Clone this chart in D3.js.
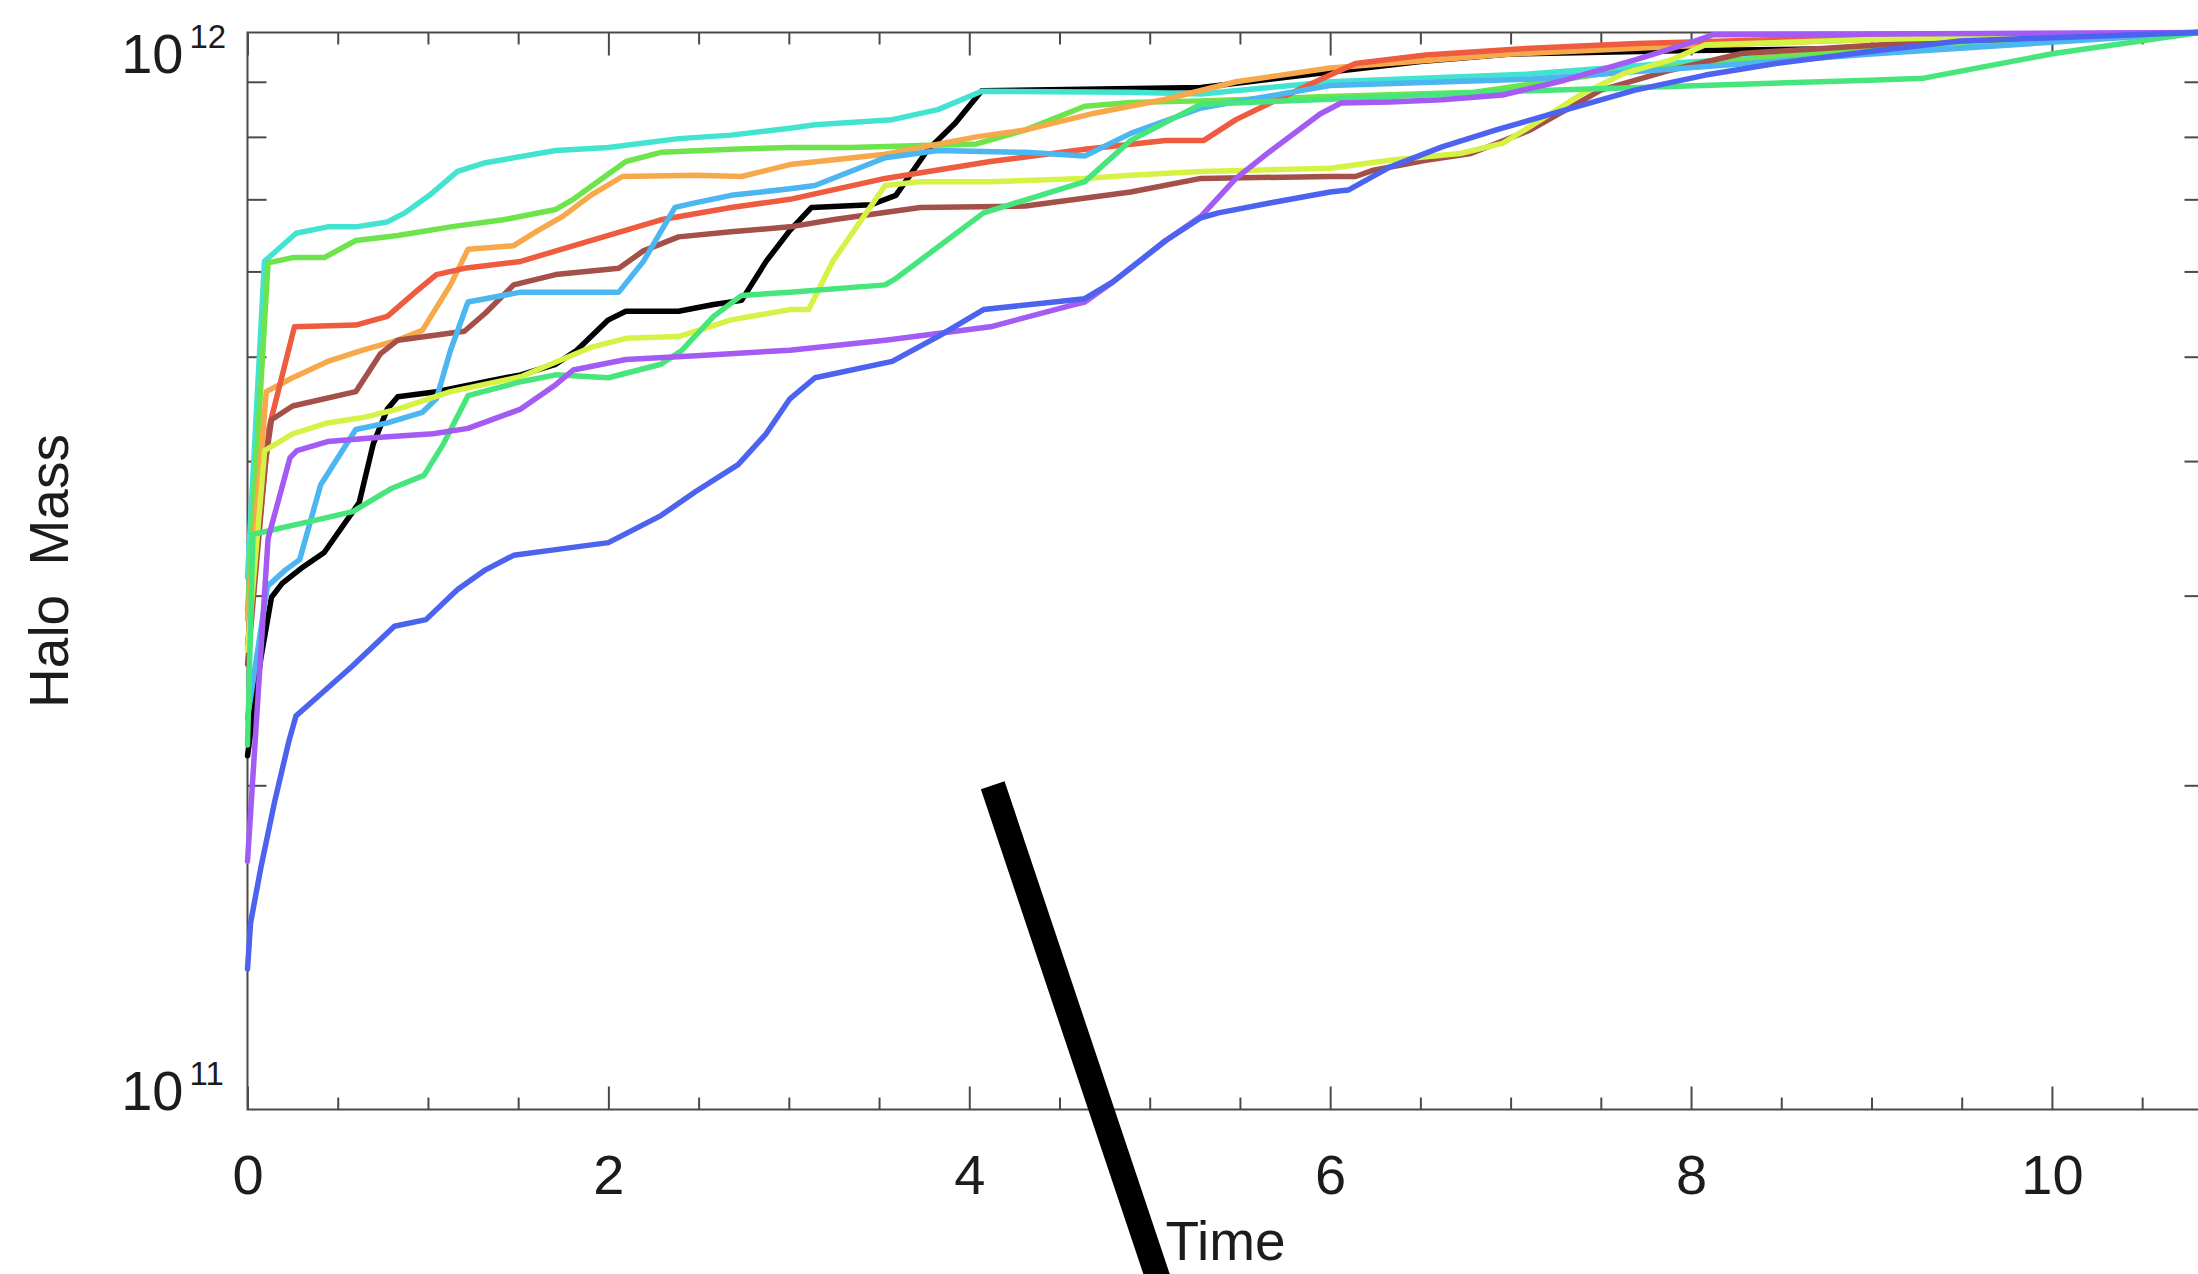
<!DOCTYPE html>
<html>
<head>
<meta charset="utf-8">
<script src="https://cdn.jsdelivr.net/npm/d3@7"></script>
<style>
  html, body { margin: 0; padding: 0; background: #fff; }
  svg { display: block; }
  text { font-family: "Liberation Sans", Arial, sans-serif; fill: #1c1c1c; }
</style>
</head>
<body>
<div id="chart"></div>
<script>
// halo mass tracks: time and mass (mass in units of 1e11)
const blackT = [0, 0.075, 0.133, 0.192, 0.308, 0.425, 0.619, 0.697, 0.775, 0.833, 1.047, 1.319, 1.514, 1.708, 1.825, 2.0, 2.097, 2.389, 2.583, 2.738, 2.874, 3.006, 3.126, 3.456, 3.593, 3.767, 3.923, 4.069, 5.284, 6.0, 6.5, 7.0, 8.0, 9.04, 10.82];
const blackM = [2.13, 2.63, 2.99, 3.08, 3.19, 3.29, 3.66, 4.15, 4.47, 4.59, 4.64, 4.74, 4.81, 4.92, 5.07, 5.41, 5.51, 5.51, 5.59, 5.64, 6.13, 6.55, 6.88, 6.92, 7.06, 7.77, 8.24, 8.83, 8.89, 9.19, 9.4, 9.55, 9.62, 9.67, 10];

const cyanT = [0, 0.094, 0.269, 0.444, 0.6, 0.775, 0.872, 1.008, 1.164, 1.319, 1.708, 2.0, 2.389, 2.68, 3.006, 3.145, 3.573, 3.826, 4.069, 4.895, 5.284, 6.0, 7.1, 7.9, 9.0, 10.82];
const cyanM = [3.12, 6.13, 6.51, 6.60, 6.60, 6.67, 6.80, 7.06, 7.43, 7.57, 7.77, 7.82, 7.97, 8.03, 8.15, 8.21, 8.30, 8.48, 8.82, 8.80, 8.77, 9.0, 9.15, 9.37, 9.6, 10];

const limeT = [0, 0.114, 0.25, 0.425, 0.6, 0.833, 1.125, 1.416, 1.708, 1.805, 2.097, 2.291, 2.68, 3.006, 3.34, 4.04, 4.312, 4.64, 4.895, 5.284, 6.0, 6.8, 7.5, 8.5, 9.5, 10.82];
const limeM = [2.9, 6.11, 6.18, 6.18, 6.41, 6.48, 6.60, 6.70, 6.85, 7.00, 7.59, 7.74, 7.79, 7.82, 7.82, 7.88, 8.12, 8.54, 8.61, 8.64, 8.72, 8.8, 9.15, 9.5, 9.8, 10];

const orangeT = [0, 0.104, 0.25, 0.444, 0.639, 0.833, 0.969, 1.125, 1.222, 1.475, 1.611, 1.747, 1.902, 2.077, 2.486, 2.738, 3.006, 3.534, 4.04, 4.312, 4.70, 5.089, 5.478, 6.0, 7.0, 8.0, 9.0, 10.82];
const orangeM = [2.85, 4.64, 4.78, 4.95, 5.07, 5.18, 5.29, 5.83, 6.29, 6.34, 6.55, 6.75, 7.06, 7.35, 7.37, 7.35, 7.54, 7.71, 8.0, 8.12, 8.42, 8.67, 9.0, 9.27, 9.55, 9.72, 9.85, 10];

const redT = [0, 0.12, 0.26, 0.6, 0.775, 0.93, 1.047, 1.202, 1.514, 1.902, 2.291, 2.68, 3.006, 3.534, 4.117, 4.64, 5.089, 5.30, 5.478, 5.673, 6.0, 6.14, 6.53, 7.11, 7.7, 8.5, 9.5, 10.82];
const redM = [2.7, 4.3, 5.33, 5.35, 5.45, 5.74, 5.96, 6.04, 6.13, 6.41, 6.70, 6.88, 7.00, 7.32, 7.59, 7.79, 7.94, 7.94, 8.30, 8.61, 9.13, 9.36, 9.53, 9.67, 9.77, 9.85, 9.93, 10];

const brownT = [0, 0.1, 0.133, 0.25, 0.6, 0.736, 0.833, 1.202, 1.319, 1.475, 1.708, 2.058, 2.194, 2.389, 2.68, 3.006, 3.243, 3.729, 4.312, 4.895, 5.284, 6.0, 6.14, 6.24, 6.53, 6.78, 7.11, 7.50, 7.89, 8.28, 9.3, 10.82];
const brownM = [2.59, 4.0, 4.37, 4.50, 4.64, 5.03, 5.18, 5.28, 5.49, 5.83, 5.96, 6.04, 6.27, 6.46, 6.53, 6.60, 6.70, 6.88, 6.90, 7.11, 7.32, 7.35, 7.35, 7.45, 7.61, 7.72, 8.12, 8.84, 9.23, 9.56, 9.8, 10];

const skyT = [0, 0.11, 0.211, 0.289, 0.405, 0.6, 0.775, 0.969, 1.047, 1.125, 1.222, 1.514, 2.058, 2.194, 2.369, 2.486, 2.68, 3.006, 3.145, 3.534, 3.826, 4.312, 4.64, 4.895, 5.284, 6.0, 7.1, 7.9, 9.0, 10.82];
const skyM = [2.31, 3.06, 3.17, 3.24, 3.80, 4.28, 4.34, 4.44, 4.57, 5.07, 5.62, 5.74, 5.74, 6.13, 6.88, 6.95, 7.06, 7.16, 7.21, 7.65, 7.77, 7.74, 7.68, 8.06, 8.51, 8.93, 9.05, 9.25, 9.55, 10];

const yellowT = [0, 0.095, 0.25, 0.444, 0.639, 0.833, 1.125, 1.514, 1.902, 2.097, 2.389, 2.68, 3.006, 3.11, 3.243, 3.534, 3.729, 4.117, 4.64, 4.895, 5.284, 6.0, 6.33, 6.72, 6.955, 7.11, 7.40, 7.635, 7.89, 8.08, 9.0, 10.82];
const yellowM = [2.67, 4.09, 4.24, 4.34, 4.39, 4.47, 4.64, 4.79, 5.10, 5.20, 5.22, 5.41, 5.53, 5.53, 6.13, 7.21, 7.27, 7.27, 7.32, 7.37, 7.43, 7.48, 7.61, 7.72, 7.89, 8.18, 8.78, 9.17, 9.43, 9.74, 9.85, 10];

const springT = [0, 0.03, 0.36, 0.583, 0.794, 0.978, 1.086, 1.222, 1.514, 1.708, 2.0, 2.291, 2.408, 2.583, 2.738, 3.006, 3.534, 3.593, 4.079, 4.64, 4.895, 5.284, 6.0, 6.92, 7.89, 8.99, 9.29, 10.01, 10.82];
const springM = [2.18, 3.42, 3.52, 3.59, 3.77, 3.88, 4.15, 4.60, 4.74, 4.81, 4.78, 4.92, 5.07, 5.45, 5.70, 5.74, 5.83, 5.91, 6.80, 7.27, 7.94, 8.58, 8.67, 8.81, 8.91, 9.03, 9.07, 9.56, 10];

const purpleT = [0, 0.114, 0.236, 0.274, 0.444, 0.736, 1.028, 1.222, 1.514, 1.708, 1.805, 2.097, 2.486, 3.006, 3.534, 4.117, 4.565, 4.64, 4.798, 5.089, 5.284, 5.478, 5.673, 5.944, 6.06, 6.33, 6.62, 6.955, 7.30, 7.69, 7.985, 8.12, 10.82];
const purpleM = [1.70, 3.39, 4.03, 4.09, 4.17, 4.21, 4.24, 4.29, 4.47, 4.71, 4.86, 4.97, 5.01, 5.07, 5.18, 5.33, 5.58, 5.62, 5.87, 6.41, 6.75, 7.32, 7.77, 8.4, 8.60, 8.62, 8.66, 8.75, 9.03, 9.43, 9.77, 9.95, 10];

const blueT = [0, 0.017, 0.075, 0.153, 0.23, 0.269, 0.405, 0.58, 0.814, 0.989, 1.164, 1.319, 1.475, 1.708, 2.0, 2.291, 2.486, 2.719, 2.874, 3.006, 3.145, 3.573, 3.826, 4.079, 4.64, 4.798, 5.089, 5.284, 5.381, 5.673, 6.0, 6.1, 6.33, 6.62, 6.92, 7.30, 7.69, 8.08, 8.47, 8.99, 9.49, 10.82];
const blueM = [1.35, 1.49, 1.68, 1.94, 2.20, 2.32, 2.43, 2.58, 2.81, 2.85, 3.04, 3.17, 3.27, 3.31, 3.36, 3.56, 3.75, 3.97, 4.24, 4.57, 4.78, 4.95, 5.22, 5.53, 5.66, 5.87, 6.41, 6.73, 6.80, 6.95, 7.11, 7.14, 7.50, 7.83, 8.12, 8.47, 8.84, 9.13, 9.36, 9.6, 9.82, 10];

const trackColors = ['#000000', '#43e3d2', '#6de44c', '#f6a84b', '#ee5b3e', '#a44f47', '#4bb6ef', '#d6f245', '#46e67c', '#a35bf3', '#4b63ef'];

// axis ticks
const xMajorTicks = [0, 2, 4, 6, 8, 10];
const xMinorTicks = [0.5, 1, 1.5, 2.5, 3, 3.5, 4.5, 5, 5.5, 6.5, 7, 7.5, 8.5, 9, 9.5, 10.5];
const yMinorTicks = [2e11, 3e11, 4e11, 5e11, 6e11, 7e11, 8e11, 9e11];
const yLabelTicks = [1e11, 1e12];

// the black pointer stroke drawn over the plot
const pointerT = [4.13, 5.12];
const pointerM = [2.0e11, 6.4e10];

const W = 2198, H = 1274;
const margin = { top: 32.5, right: -5.5, bottom: 164.5, left: 247.5 };
const width = W - margin.left - margin.right;
const height = H - margin.top - margin.bottom;

const x = d3.scaleLinear().domain([0, 10.84]).range([0, width]);
const y = d3.scaleLog().domain([1e11, 1e12]).range([height, 0]);

const svg = d3.select('#chart').append('svg')
  .attr('width', W).attr('height', H)
  .style('background', '#fff');

const g = svg.append('g').attr('transform', `translate(${margin.left},${margin.top})`);

const axisColor = '#4a4a4a';

// frame
g.append('rect')
  .attr('x', 0).attr('y', 0).attr('width', width).attr('height', height)
  .attr('fill', 'none').attr('stroke', axisColor).attr('stroke-width', 2);

function styleAxis(sel) {
  sel.select('.domain').remove();
  sel.selectAll('.tick line').attr('stroke', axisColor).attr('stroke-width', 2);
}

// bottom axis
g.append('g').attr('transform', `translate(0,${height})`)
  .call(d3.axisBottom(x).tickValues(xMajorTicks).tickSize(-23).tickPadding(45).tickFormat(d3.format('d')))
  .call(styleAxis)
  .selectAll('text').style('font-size', '56px').attr('fill', '#1c1c1c');
g.append('g').attr('transform', `translate(0,${height})`)
  .call(d3.axisBottom(x).tickValues(xMinorTicks).tickSize(-12).tickFormat(''))
  .call(styleAxis);

// top axis
g.append('g')
  .call(d3.axisTop(x).tickValues(xMajorTicks).tickSize(-23).tickFormat(''))
  .call(styleAxis);
g.append('g')
  .call(d3.axisTop(x).tickValues(xMinorTicks).tickSize(-12).tickFormat(''))
  .call(styleAxis);

// left / right axes
g.append('g')
  .call(d3.axisLeft(y).tickValues(yMinorTicks).tickSize(-19).tickFormat(''))
  .call(styleAxis);
g.append('g').attr('transform', `translate(${width},0)`)
  .call(d3.axisRight(y).tickValues(yMinorTicks).tickSize(-19).tickFormat(''))
  .call(styleAxis);

// y decade labels, 10 with a superscript
yLabelTicks.forEach(v => {
  const base = y(v) + (v === 1e12 ? 40 : 0);
  g.append('text')
    .attr('x', -64).attr('y', base)
    .attr('text-anchor', 'end')
    .style('font-size', '56px')
    .text('10');
  g.append('text')
    .attr('x', -58).attr('y', base - 25)
    .style('font-size', '33px')
    .text(String(Math.round(Math.log10(v))));
});

// axis titles
g.append('text')
  .attr('x', width / 2).attr('y', height + 150)
  .attr('text-anchor', 'middle')
  .style('font-size', '55px')
  .text('Time');

g.append('text')
  .attr('transform', `translate(${-180},${height / 2}) rotate(-90)`)
  .attr('text-anchor', 'middle')
  .style('font-size', '55px')
  .style('word-spacing', '14px')
  .text('Halo Mass');

// tracks
const tracks = [
  [blackT, blackM], [cyanT, cyanM], [limeT, limeM], [orangeT, orangeM],
  [redT, redM], [brownT, brownM], [skyT, skyM], [yellowT, yellowM],
  [springT, springM], [purpleT, purpleM], [blueT, blueM]
];

const line = d3.line()
  .x(d => x(d[0]))
  .y(d => y(d[1] * 1e11));

tracks.forEach(([ts, ms], i) => {
  const pts = ts.map((t, k) => [t, ms[k]]);
  g.append('path')
    .datum(pts)
    .attr('d', line)
    .attr('fill', 'none')
    .attr('stroke', trackColors[i])
    .attr('stroke-width', 5.5)
    .attr('stroke-linejoin', 'round')
    .attr('stroke-linecap', 'round');
});

// pointer stroke
g.append('line')
  .attr('x1', x(pointerT[0])).attr('y1', y(pointerM[0]))
  .attr('x2', x(pointerT[1])).attr('y2', y(pointerM[1]))
  .attr('stroke', '#000')
  .attr('stroke-width', 25)
  .attr('stroke-linecap', 'butt');
</script>
</body>
</html>
